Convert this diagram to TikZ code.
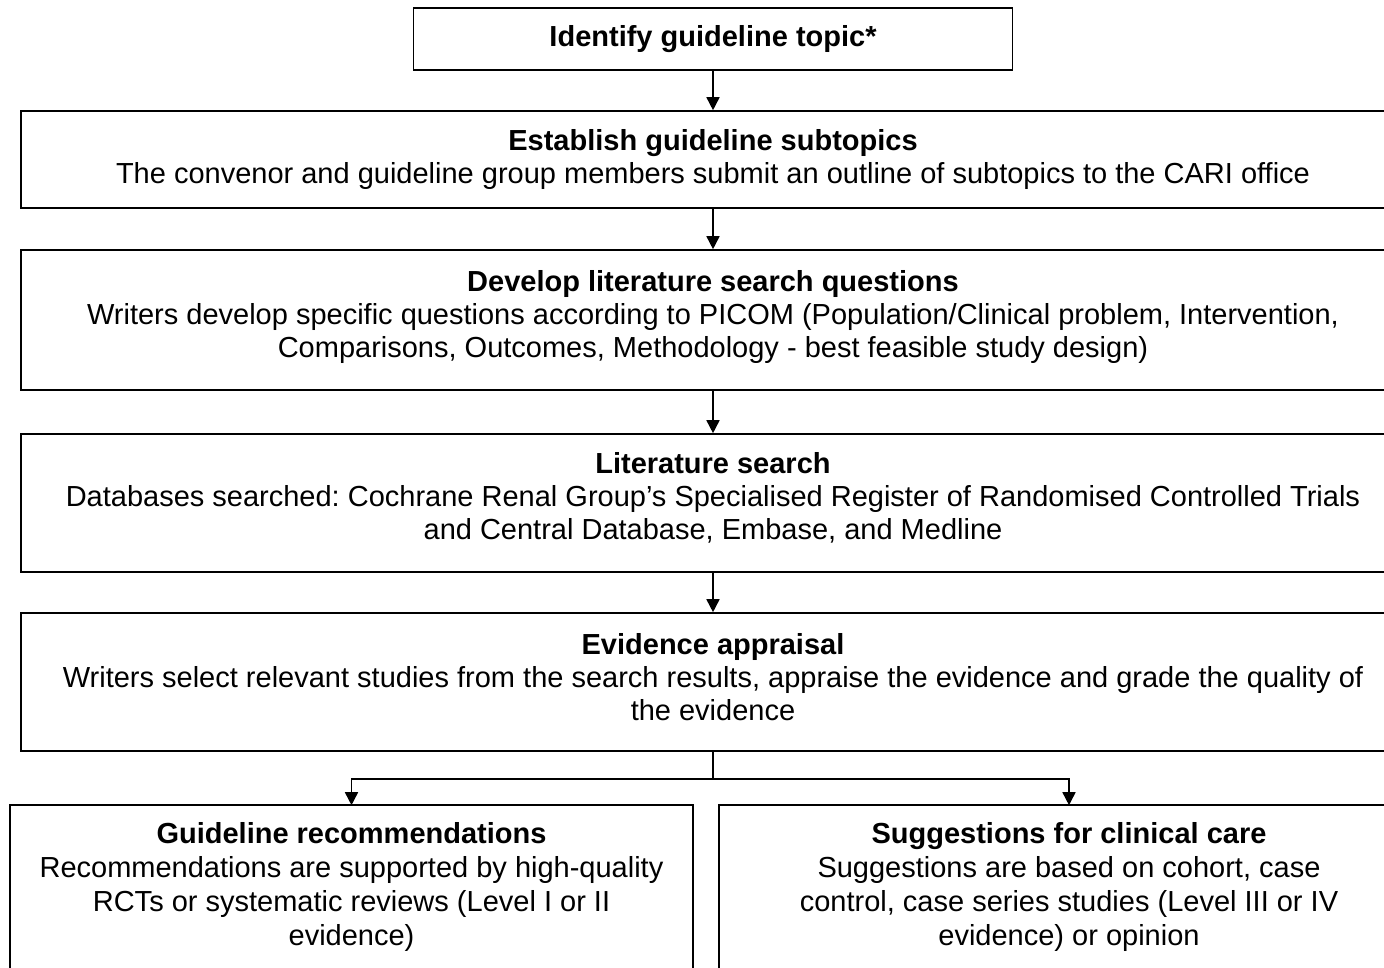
\documentclass[tikz,border=0pt]{standalone}
\usepackage{fontspec}
\setmainfont{Liberation Sans}
\usetikzlibrary{arrows.meta, positioning}
\frenchspacing
\newcommand\lift[1]{\rule[-#1]{0pt}{0pt}}
\tikzset{
    stepbox/.style={draw, line width=1.6pt, rectangle, align=center, inner sep=0pt,
        font=\fontsize{29}{33}\selectfont},
    openbox/.style={stepbox, draw=none, font=\fontsize{29}{34}\selectfont},
    flow/.style={line width=1.6pt, -{Triangle[width=13pt, length=13pt]}}
}

\begin{document}
\begin{tikzpicture}[x=1pt, y=-1pt]
    \useasboundingbox (0,0) rectangle (1384,967);
    \clip (0,0) rectangle (1384,967);
    % main column
    \node[stepbox, minimum width=599pt, minimum height=62pt] (topic) at (713,39)
        {\textbf{Identify guideline topic*}};
    \node[stepbox, minimum width=1384pt, minimum height=97pt] (subtopics) at (713,159.5)
        {\textbf{Establish guideline subtopics}\\
         The convenor and guideline group members submit an outline of subtopics to the CARI office};
    \node[stepbox, minimum width=1384pt, minimum height=140pt] (questions) at (713,320)
        {\textbf{Develop literature search questions}\\
         Writers develop specific questions according to PICOM (Population/Clinical problem, Intervention,\\
         Comparisons, Outcomes, Methodology - best feasible study design)\lift{12pt}};
    \node[stepbox, minimum width=1384pt, minimum height=138pt] (search) at (713,503)
        {\textbf{Literature search}\\
         Databases searched: Cochrane Renal Group’s Specialised Register of Randomised Controlled Trials\\
         and Central Database, Embase, and Medline\lift{14pt}};
    \node[stepbox, minimum width=1384pt, minimum height=138pt] (appraisal) at (713,682)
        {\textbf{Evidence appraisal}\\
         Writers select relevant studies from the search results, appraise the evidence and grade the quality of\\
         the evidence\lift{10pt}};
    % the two outcomes, running off the page at the bottom
    \node[openbox, minimum width=681pt, minimum height=162pt] (recs) at (351.5,887)
        {\textbf{Guideline recommendations}\\
         Recommendations are supported by high-quality\\
         RCTs or systematic reviews (Level I or II\\
         evidence)};
    \node[openbox, minimum width=698pt, minimum height=162pt] (care) at (1069,887)
        {\textbf{Suggestions for clinical care}\\
         Suggestions are based on cohort, case\\
         control, case series studies (Level III or IV\\
         evidence) or opinion};
    \draw[line width=1.6pt] (recs.south west) -- (recs.north west) -- (recs.north east) -- (recs.south east);
    \draw[line width=1.6pt] (care.south west) -- (care.north west) -- (care.north east) -- (care.south east);
    \draw[flow] (topic.south) -- (subtopics.north);
    \draw[flow] (subtopics.south) -- (questions.north);
    \draw[flow] (questions.south) -- (search.north);
    \draw[flow] (search.south) -- (appraisal.north);
    \draw[line width=1.6pt] (appraisal.south) -- ++(0,27) coordinate (fork);
    \draw[flow] (fork) -| (recs.north);
    \draw[flow] (fork) -| (care.north);
\end{tikzpicture}
\end{document}
